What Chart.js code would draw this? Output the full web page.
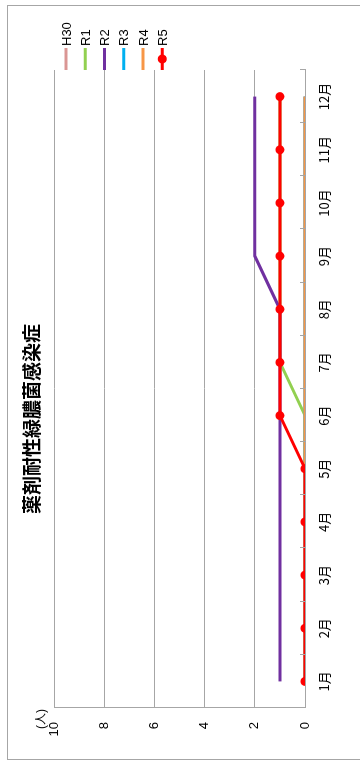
<!DOCTYPE html>
<html lang="ja">
<head>
<meta charset="utf-8">
<title>薬剤耐性緑膿菌感染症</title>
<script src="https://cdn.jsdelivr.net/npm/chart.js@4.4.1/dist/chart.umd.min.js"></script>
<style>
  html, body { margin: 0; padding: 0; width: 360px; height: 765px; overflow: hidden; background: #fff; }
  /* the chart is laid out landscape and turned a quarter turn to stand upright */
  #wrap { position: absolute; left: 0; top: 0; width: 765px; height: 360px;
          transform-origin: 0 0; transform: translate(0, 765px) rotate(-90deg); }
  canvas { display: block; }
</style>
</head>
<body>
<div id="wrap"><canvas id="c" width="765" height="360"></canvas></div>
<script>
// months on the category axis
const months = ['1月', '2月', '3月', '4月', '5月', '6月', '7月', '8月', '9月', '10月', '11月', '12月'];

// reported cases per month, one array per fiscal year
const h30 = [0, 0, 0, 0, 0, 0, 0, 0, 0, 0, 0, 0];
const r1  = [0, 0, 0, 0, 0, 0, 1, 1, 1, 1, 1, 1];
const r2  = [1, 1, 1, 1, 1, 1, 1, 1, 2, 2, 2, 2];
const r3  = [0, 0, 0, 0, 0, 0, 0, 0, 0, 0, 0, 0];
const r4  = [0, 0, 0, 0, 0, 0, 0, 0, 0, 0, 0, 0];
const r5  = [0, 0, 0, 0, 0, 1, 1, 1, 1, 1, 1, 1];

const seriesNames = ['H30', 'R1', 'R2', 'R3', 'R4', 'R5'];
const seriesData = [h30, r1, r2, r3, r4, r5];
const seriesColors = ['#DA9694', '#92D050', '#7030A0', '#00B0F0', '#F79646', '#FF0000'];

const titleText = '薬剤耐性緑膿菌感染症';
const unitText = '(人)';

const FONT = "'Liberation Sans', 'Noto Sans CJK JP', sans-serif";
const CJK = "'Noto Sans CJK JP', sans-serif";
const GRID = '#a6a6a6';

const datasets = seriesNames.map((name, i) => ({
  label: name,
  data: seriesData[i],
  borderColor: seriesColors[i],
  backgroundColor: seriesColors[i],
  borderWidth: 3,
  tension: 0,
  pointRadius: name === 'R5' ? 4.5 : 0,
  pointHoverRadius: name === 'R5' ? 4.5 : 0,
  pointBorderWidth: 0,
  fill: false,
  order: seriesNames.length - i   // later years drawn on top
}));

// frame, title, unit label, category tick marks and the legend
const decorations = {
  id: 'decorations',
  beforeDraw(chart) {
    const ctx = chart.ctx;
    ctx.save();
    ctx.fillStyle = '#fff';
    ctx.fillRect(0, 0, chart.width, chart.height);
    ctx.strokeStyle = GRID;
    ctx.lineWidth = 1;
    ctx.strokeRect(5.5, 7.5, 754, 360);
    ctx.restore();
  },
  afterDraw(chart) {
    const ctx = chart.ctx;
    const xs = chart.scales.x;
    ctx.save();

    // small inward tick marks between the months
    ctx.strokeStyle = GRID;
    ctx.lineWidth = 1;
    for (let i = 0; i <= months.length; i++) {
      const px = Math.round(xs.getPixelForValue(i - 0.5)) + 0.5;
      ctx.beginPath();
      ctx.moveTo(px, xs.top);
      ctx.lineTo(px, xs.top - 5);
      ctx.stroke();
    }

    // title
    ctx.fillStyle = '#000';
    ctx.font = "bold 19px " + CJK;
    ctx.textAlign = 'center';
    ctx.textBaseline = 'middle';
    ctx.fillText(titleText, 346, 32);

    // unit
    ctx.font = '12px ' + FONT;
    ctx.fillText(unitText, 46, 42);

    // legend
    ctx.font = '13px ' + FONT;
    ctx.textAlign = 'left';
    seriesNames.forEach((name, i) => {
      const y = 66 + i * 19.25;
      ctx.strokeStyle = seriesColors[i];
      ctx.lineWidth = 3;
      ctx.beginPath();
      ctx.moveTo(695, y);
      ctx.lineTo(717, y);
      ctx.stroke();
      if (name === 'R5') {
        ctx.fillStyle = seriesColors[i];
        ctx.beginPath();
        ctx.arc(706, y, 4.5, 0, Math.PI * 2);
        ctx.fill();
      }
      ctx.fillStyle = '#000';
      ctx.fillText(name, 719, y + 1);
    });
    ctx.restore();
  }
};

new Chart(document.getElementById('c'), {
  type: 'line',
  data: { labels: months, datasets },
  options: {
    responsive: false,
    animation: false,
    devicePixelRatio: 1,
    layout: { padding: { top: 54, right: 70, left: 0, bottom: 0 } },
    plugins: {
      legend: { display: false },
      title: { display: false },
      tooltip: { enabled: false }
    },
    scales: {
      x: {
        type: 'category',
        offset: true,
        grid: { display: false, drawTicks: false },
        border: { display: true, color: GRID, width: 1 },
        ticks: { color: '#000', font: { size: 13, family: CJK }, padding: 11,
                 maxRotation: 0, autoSkip: false },
        afterFit(s) { s.height = 55; }
      },
      y: {
        min: 0,
        max: 10,
        grid: { color: GRID, lineWidth: 1, drawTicks: false },
        border: { display: true, color: GRID, width: 1 },
        ticks: { stepSize: 2, color: '#000', font: { size: 13, family: FONT }, padding: 14 },
        afterFit(s) { s.width = 57; }
      }
    }
  },
  plugins: [decorations]
});
</script>
</body>
</html>
